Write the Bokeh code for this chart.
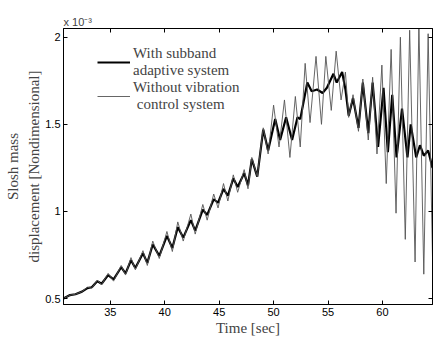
from bokeh.plotting import figure
from bokeh.models import Range1d, LinearAxis, Legend, LegendItem, FixedTicker
from bokeh.embed import file_html
from bokeh.resources import INLINE

# Time [sec]
t_adaptive = [30.7, 31.3, 31.8, 32.4, 32.9, 33.3, 33.8, 34.2, 34.8, 35.3, 36.0, 36.4, 36.9, 37.3,
              38.0, 38.4, 38.9, 39.5, 40.2, 40.7, 41.2, 41.7, 42.4, 42.8, 43.5, 43.9, 44.5, 44.9,
              45.4, 45.8, 46.3, 46.7, 47.3, 47.65, 48.0, 48.5, 49.05, 49.5, 50.15, 50.6, 51.15,
              51.7, 52.2, 52.45, 53.1, 53.5, 54.0, 54.5, 54.9, 55.5, 55.8, 56.3, 56.6, 56.9,
              57.3, 57.8, 58.2, 58.7, 59.1, 59.6, 60.1, 60.5, 60.9, 61.3, 61.8, 62.3, 62.6,
              63.1, 63.45, 63.8, 64.2, 64.6]
# slosh mass displacement (x 1e-3), with subband adaptive system
y_adaptive = [0.50, 0.52, 0.525, 0.54, 0.56, 0.565, 0.60, 0.585, 0.635, 0.61, 0.68, 0.645, 0.72, 0.675,
              0.76, 0.705, 0.81, 0.745, 0.86, 0.79, 0.91, 0.85, 0.95, 0.89, 1.01, 0.98, 1.07, 1.05,
              1.13, 1.09, 1.19, 1.14, 1.22, 1.15, 1.30, 1.20, 1.47, 1.35, 1.53, 1.41, 1.54,
              1.41, 1.54, 1.53, 1.74, 1.69, 1.70, 1.68, 1.71, 1.79, 1.74, 1.80, 1.70, 1.55,
              1.65, 1.48, 1.74, 1.45, 1.74, 1.37, 1.71, 1.34, 1.67, 1.31, 1.59, 1.31, 1.50,
              1.31, 1.38, 1.32, 1.35, 1.25]

t_none = [30.7, 31.3, 31.8, 32.4, 32.9, 33.3, 33.8, 34.2, 34.8, 35.3, 36.0, 36.4, 36.9, 37.3,
          38.0, 38.4, 38.9, 39.5, 40.2, 40.7, 41.2, 41.7, 42.4, 42.8, 43.5, 43.9, 44.5, 44.9,
          45.4, 45.8, 46.3, 46.7, 47.3, 47.65, 48.0, 48.5, 49.05, 49.5, 50.0, 50.5, 51.0,
          51.5, 52.0, 52.45, 52.9, 53.35, 53.9, 54.4, 54.8, 55.3, 55.75, 56.2, 56.6, 56.9,
          57.3, 57.8, 58.2, 58.7, 59.1, 59.5, 59.95, 60.35, 60.8, 61.25, 61.65, 62.1, 62.5,
          63.0, 63.35, 63.8, 64.2, 64.65]
# slosh mass displacement (x 1e-3), without vibration control system
y_none = [0.50, 0.52, 0.525, 0.54, 0.565, 0.56, 0.605, 0.58, 0.645, 0.60, 0.69, 0.635, 0.735, 0.665,
          0.775, 0.69, 0.83, 0.73, 0.885, 0.77, 0.94, 0.83, 0.985, 0.87, 1.04, 0.95, 1.10, 1.02,
          1.16, 1.06, 1.21, 1.11, 1.24, 1.13, 1.31, 1.20, 1.48, 1.33, 1.61, 1.37, 1.64,
          1.31, 1.66, 1.37, 1.85, 1.51, 1.89, 1.50, 1.89, 1.58, 1.92, 1.64, 1.80, 1.54,
          1.67, 1.46, 1.76, 1.41, 1.77, 1.33, 1.84, 1.16, 1.93, 0.99, 2.00, 0.84, 2.04,
          0.71, 2.08, 0.64, 2.02, 0.58]

x_ticks = [35, 40, 45, 50, 55, 60]
y_ticks = [0.5, 1.0, 1.5, 2.0]
y_tick_labels = ["0.5", "1", "1.5", "2"]

SERIF = "Liberation Serif"
SANS = "Liberation Sans"

p = figure(width=433, height=338, output_backend="svg", toolbar_location=None,
           x_range=Range1d(30.7, 64.6), y_range=Range1d(0.466, 2.05),
           min_border_left=63, min_border_right=1, min_border_top=28, min_border_bottom=33)
p.background_fill_color = "white"
p.border_fill_color = "white"
p.grid.visible = False
p.outline_line_color = "black"
p.outline_line_width = 1

p.title.text = "x 10\u207b\u00b3"
p.title.text_font = SANS
p.title.text_font_size = "11px"
p.title.text_font_style = "normal"
p.title.standoff = 1

r1 = p.line(t_adaptive, y_adaptive, line_color="black", line_width=2.2)
r2 = p.line(t_none, y_none, line_color="#555555", line_width=0.9)

def style_axis(ax, show_labels):
    ax.major_tick_in = 4
    ax.major_tick_out = 0
    ax.minor_tick_line_color = None
    ax.axis_line_color = "black"
    ax.major_tick_line_color = "black"
    ax.major_label_text_font = SANS
    if show_labels:
        ax.major_label_text_font_size = "11px"
        ax.major_label_text_color = "black"
        ax.major_label_standoff = 3
    else:
        ax.major_label_text_font_size = "0px"
        ax.major_label_text_color = None
        ax.major_label_standoff = 0

xa = p.xaxis[0]
xa.ticker = FixedTicker(ticks=x_ticks)
style_axis(xa, True)
xa.axis_label = "Time [sec]"
xa.axis_label_text_font = SERIF
xa.axis_label_text_font_size = "15px"
xa.axis_label_text_font_style = "normal"
xa.axis_label_standoff = 1

ya = p.yaxis[0]
ya.ticker = FixedTicker(ticks=y_ticks)
ya.major_label_overrides = {v: s for v, s in zip(y_ticks, y_tick_labels)}
style_axis(ya, True)
ya.axis_label = "Slosh mass\ndisplacement [Nondimensional]"
ya.axis_label_text_font = SERIF
ya.axis_label_text_font_size = "15px"
ya.axis_label_text_font_style = "normal"
ya.axis_label_text_line_height = 1.3
ya.axis_label_standoff = 0

top = LinearAxis(ticker=FixedTicker(ticks=x_ticks))
style_axis(top, False)
p.add_layout(top, "above")
right = LinearAxis(ticker=FixedTicker(ticks=y_ticks))
style_axis(right, False)
p.add_layout(right, "right")

legend = Legend(items=[LegendItem(label="With subband\nadaptive system", renderers=[r1]),
                       LegendItem(label="Without vibration\n control system", renderers=[r2])],
                location=(34, 191))
legend.label_text_font = SERIF
legend.label_text_font_size = "15px"
legend.label_text_line_height = 1.0
legend.glyph_width = 33
legend.label_standoff = 3
legend.spacing = 0
legend.padding = 0
legend.margin = 0
legend.border_line_color = None
legend.background_fill_alpha = 0
p.add_layout(legend)

open("out.html", "w").write(file_html(p, INLINE))
